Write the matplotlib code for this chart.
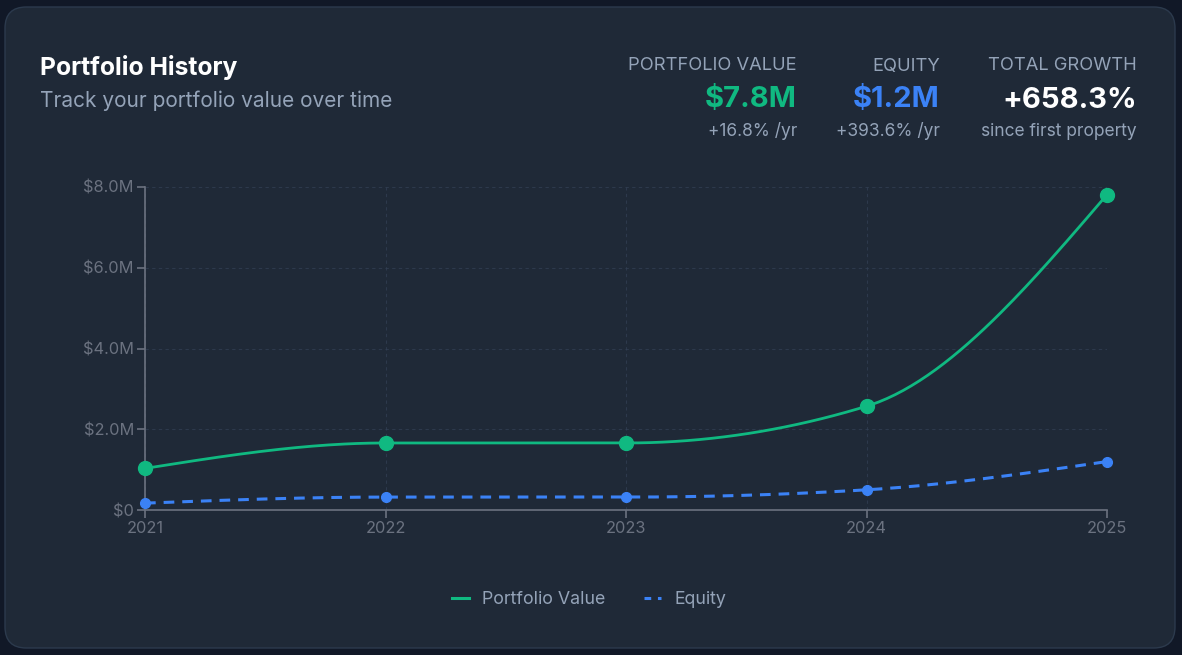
import numpy as np
import matplotlib
matplotlib.use("Agg")
import matplotlib.pyplot as plt
from matplotlib.patches import FancyBboxPatch
from matplotlib.lines import Line2D

plt.rcParams['font.family'] = ['Inter', 'DejaVu Sans']

# data (in $M)
years = [2021, 2022, 2023, 2024, 2025]
portfolio = [1.03, 1.66, 1.66, 2.57, 7.81]
equity = [0.17, 0.32, 0.32, 0.50, 1.20]
y_ticks = [0, 2, 4, 6, 8]
y_labels = ["$0", "$2.0M", "$4.0M", "$6.0M", "$8.0M"]

stat_titles = ["PORTFOLIO VALUE", "EQUITY", "TOTAL GROWTH"]
stat_values = ["$7.8M", "$1.2M", "+658.3%"]
stat_notes = ["+16.8% /yr", "+393.6% /yr", "since first property"]

GREEN = "#10b981"
BLUE = "#3b82f6"
CARD = "#1f2937"
BG = "#111827"
MUTED = "#94a3b8"
AXIS = "#6b7280"


def monotone(xs, ys, n=60):
    # monotone cubic (d3 curveMonotoneX style) for drawing the line
    xs = np.asarray(xs, float)
    ys = np.asarray(ys, float)
    h = np.diff(xs)
    s = np.diff(ys) / h
    m = np.zeros(len(xs))
    for i in range(1, len(xs) - 1):
        p = (s[i - 1] * h[i] + s[i] * h[i - 1]) / (h[i - 1] + h[i])
        m[i] = (np.sign(s[i - 1]) + np.sign(s[i])) * min(abs(s[i - 1]), abs(s[i]), 0.5 * abs(p))
    m[0] = (3 * s[0] - m[1]) / 2
    m[-1] = (3 * s[-1] - m[-2]) / 2
    out_x, out_y = [], []
    for i in range(len(xs) - 1):
        t = np.linspace(0, 1, n)
        h00 = 2 * t**3 - 3 * t**2 + 1
        h10 = t**3 - 2 * t**2 + t
        h01 = -2 * t**3 + 3 * t**2
        h11 = t**3 - t**2
        out_x.extend(xs[i] + t * h[i])
        out_y.extend(h00 * ys[i] + h10 * h[i] * m[i] + h01 * ys[i + 1] + h11 * h[i] * m[i + 1])
    return np.array(out_x), np.array(out_y)


fig = plt.figure(figsize=(11.82, 6.55), dpi=100)
fig.patch.set_facecolor(BG)

W, H = 1182, 655
card = FancyBboxPatch((5 / W, 7 / H), 1170 / W, 641 / H,
                      boxstyle="round,pad=0,rounding_size=0.018",
                      transform=fig.transFigure, facecolor=CARD,
                      edgecolor="#2c3a4d", linewidth=1, mutation_aspect=W / H,
                      zorder=-5)
fig.patches.append(card)

# header
fig.text(40 / W, 1 - 67 / H, "Portfolio History", color="white", fontsize=17.8,
         fontweight="bold", va="center", ha="left")
fig.text(40 / W, 1 - 101 / H, "Track your portfolio value over time", color=MUTED,
         fontsize=15, va="center", ha="left")

stat_x = [797, 940, 1137]
stat_colors = [GREEN, BLUE, "white"]
for i in range(3):
    fig.text(stat_x[i] / W, 1 - 66 / H, stat_titles[i], color=MUTED, fontsize=13.2,
             ha="right", va="center")
    fig.text(stat_x[i] / W, 1 - 100 / H, stat_values[i], color=stat_colors[i], fontsize=21,
             fontweight="bold", ha="right", va="center")
    fig.text(stat_x[i] / W, 1 - 131 / H, stat_notes[i], color=MUTED, fontsize=12.5,
             ha="right", va="center")

ax = fig.add_axes([145 / W, 145 / H, 962 / W, 323 / H])
ax.set_facecolor("none")

px, py = monotone(years, portfolio)
ex, ey = monotone(years, equity)
ax.plot(px, py, color=GREEN, linewidth=2, solid_capstyle="round", zorder=3)
ax.plot(years, portfolio, "o", color=GREEN, markersize=10, zorder=4)
ax.plot(ex, ey, color=BLUE, linewidth=2.2, dashes=(3.5, 2.6), zorder=3)
ax.plot(years, equity, "o", color=BLUE, markersize=7, zorder=4)

ax.set_xlim(2021, 2025)
ax.set_ylim(0, 8)
ax.set_xticks(years)
ax.set_xticklabels([str(y) for y in years])
ax.set_yticks(y_ticks)
ax.set_yticklabels(y_labels)

ax.grid(True, color="#334155", linestyle=(0, (3, 3)), linewidth=0.8, alpha=0.7)
ax.set_axisbelow(True)
for side in ["top", "right"]:
    ax.spines[side].set_visible(False)
for side in ["left", "bottom"]:
    ax.spines[side].set_color(AXIS)
    ax.spines[side].set_linewidth(1.2)
ax.tick_params(colors=AXIS, labelcolor=AXIS, labelsize=11.8, length=6, width=1.2, pad=2)
for ln in ax.lines:
    ln.set_clip_on(False)

handles = [Line2D([], [], color=GREEN, linewidth=2.2),
           Line2D([], [], color=BLUE, linewidth=2.2, dashes=(2.2, 2.2))]
fig.legend(handles, ["Portfolio Value", "Equity"], loc="center",
           bbox_to_anchor=(589 / W, 1 - 600 / H), ncol=2, frameon=False,
           labelcolor=MUTED, fontsize=12.8, handlelength=0.95, handletextpad=0.75,
           columnspacing=2.2)

fig.savefig("out.png", dpi=100, facecolor=BG)
